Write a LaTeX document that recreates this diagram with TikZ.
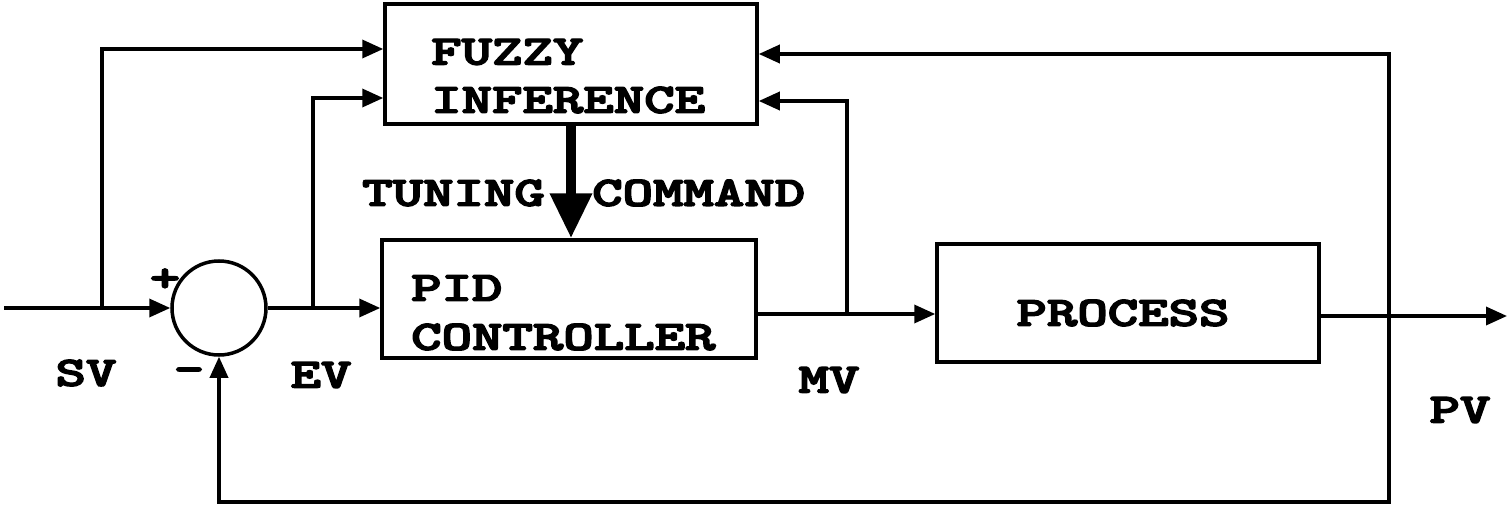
\documentclass[tikz,border=0pt]{standalone}
\usepackage{fontspec}
\usetikzlibrary{arrows.meta}
\newcommand\stt[1]{\special{pdf:literal q 2 Tr 1.3 w}\scalebox{1.38}[1]{#1}\special{pdf:literal Q}}
\tikzset{
  box/.style={draw, line width=3.5pt, inner sep=0pt},
  txt/.style={font=\ttfamily\bfseries\fontsize{42}{50}\selectfont, inner sep=0pt},
  conn/.style={line width=3.5pt, -{Triangle[length=21pt,width=18pt]}},
  thick arrow/.style={line width=10pt, -{Triangle[length=45pt,width=40pt]}},
}
\begin{document}
\begin{tikzpicture}[x=1pt,y=-1pt]
\useasboundingbox (0,0) rectangle (1508,511);
% blocks
\node[box, minimum width=372pt, minimum height=120pt] (fuzzy) at (571,64) {};
\node[box, minimum width=374pt, minimum height=118pt] (pid) at (569,299) {};
\node[box, minimum width=382pt, minimum height=118pt] (proc) at (1128,303) {};
\node[draw, line width=3.5pt, circle, minimum size=94pt, inner sep=0pt] (sum) at (219,308) {};
% block texts
\node[txt, anchor=west] (fz1) at (431,52) {\stt{FUZZY}};
\node[txt, anchor=west] (fz2) at (431,100) {\stt{INFERENCE}};
\node[txt, anchor=west] (pd1) at (411,288) {\stt{PID}};
\node[txt, anchor=west] (pd2) at (411,337) {\stt{CONTROLLER}};
\node[txt] (pr) at (1123,313) {\stt{PROCESS}};
% signal labels
\node[txt] (sv) at (86,373) {\stt{SV}};
\node[txt] (ev) at (321,375) {\stt{EV}};
\node[txt] (mv) at (829,380) {\stt{MV}};
\node[txt] (pv) at (1460,410) {\stt{PV}};
\node[txt] (plus) at (165,280) {\stt{+}};
\node[txt] (minus) at (189,375) {\stt{-}};
\node[txt, anchor=east] (tun) at (545,193) {\stt{TUNING}};
\node[txt, anchor=west] (cmd) at (592,193) {\stt{COMMAND}};
% coordinates
\coordinate (in) at (4,308);
\coordinate (svb) at (102,308);
\coordinate (evb) at (313,308);
\coordinate (mvb) at (847,314);
\coordinate (pvb) at (1389,316);
\coordinate (pvbot) at (1389,502);
\coordinate (out) at (1507,316);
% connectors
\draw[conn] (in) -- (sum.west);
\draw[conn] (svb) |- (fuzzy.west |- 0,49);
\draw[conn] (sum.east) -- (sum.east -| pid.west);
\draw[conn] (evb) |- (fuzzy.west |- 0,98);
\draw[conn] (pid.east |- mvb) -- (proc.west |- mvb);
\draw[conn] (mvb) |- (fuzzy.east |- 0,101);
\draw[conn] (proc.east |- pvb) -- (out);
\draw[conn] (pvb) |- (fuzzy.east |- 0,54);
\draw[conn] (pvb) -- (pvbot) -| (sum.south);
\draw[thick arrow] (fuzzy.south) -- (fuzzy.south |- pid.north);
\end{tikzpicture}
\end{document}
